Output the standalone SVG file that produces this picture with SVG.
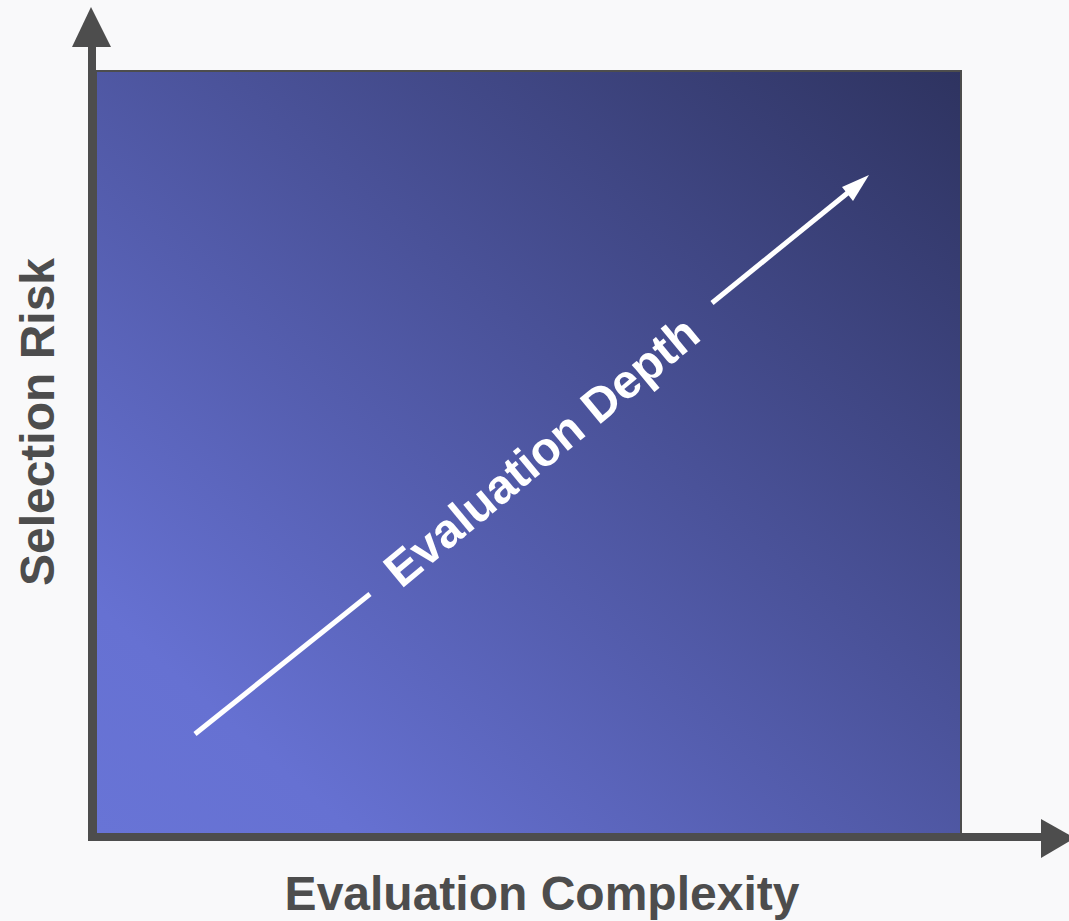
<svg xmlns="http://www.w3.org/2000/svg" width="1069" height="921" viewBox="0 0 1069 921">
  <defs>
    <linearGradient id="bg" x1="0" y1="1" x2="1" y2="0">
      <stop offset="0" stop-color="#6874d6"/>
      <stop offset="0.15" stop-color="#6671d2"/>
      <stop offset="1" stop-color="#2e3360"/>
    </linearGradient>
    <style>
      .axis { stroke: #4d4d4d; stroke-width: 8; fill: none; }
      .axhead { fill: #4d4d4d; }
      .lbl { font-family: "Liberation Sans", Arial, sans-serif; font-weight: bold; font-size: 48px; fill: #4d4d4d; }
      .wl { stroke: #ffffff; stroke-width: 5; fill: none; }
    </style>
  </defs>
  <rect x="0" y="0" width="1069" height="921" fill="#f9f9fa"/>
  <g id="plot-area">
    <rect x="96" y="71" width="865" height="764" fill="url(#bg)" stroke="#4d4d4d" stroke-width="2"/>
  </g>
  <g id="connectors">
    <path class="axis" d="M92 46 V837 H1041"/>
    <polygon class="axhead" points="91,7 111,47 72,47"/>
    <polygon class="axhead" points="1075,838 1041,819 1041,858"/>
    <line class="wl" x1="195" y1="734" x2="370" y2="594"/>
    <line class="wl" x1="712" y1="303" x2="850" y2="191"/>
    <polygon points="869,175 853,201 842,187" fill="#ffffff"/>
  </g>
  <g id="label-depth">
    <text x="552" y="464" text-anchor="middle" transform="rotate(-39.7 552 464)" font-family="Liberation Sans, Arial, sans-serif" font-weight="bold" font-size="48" fill="#ffffff">Evaluation Depth</text>
  </g>
  <g id="label-y">
    <text class="lbl" x="54" y="422" text-anchor="middle" transform="rotate(-90 54 422)">Selection Risk</text>
  </g>
  <g id="label-x">
    <text class="lbl" x="542" y="910" text-anchor="middle">Evaluation Complexity</text>
  </g>
</svg>
